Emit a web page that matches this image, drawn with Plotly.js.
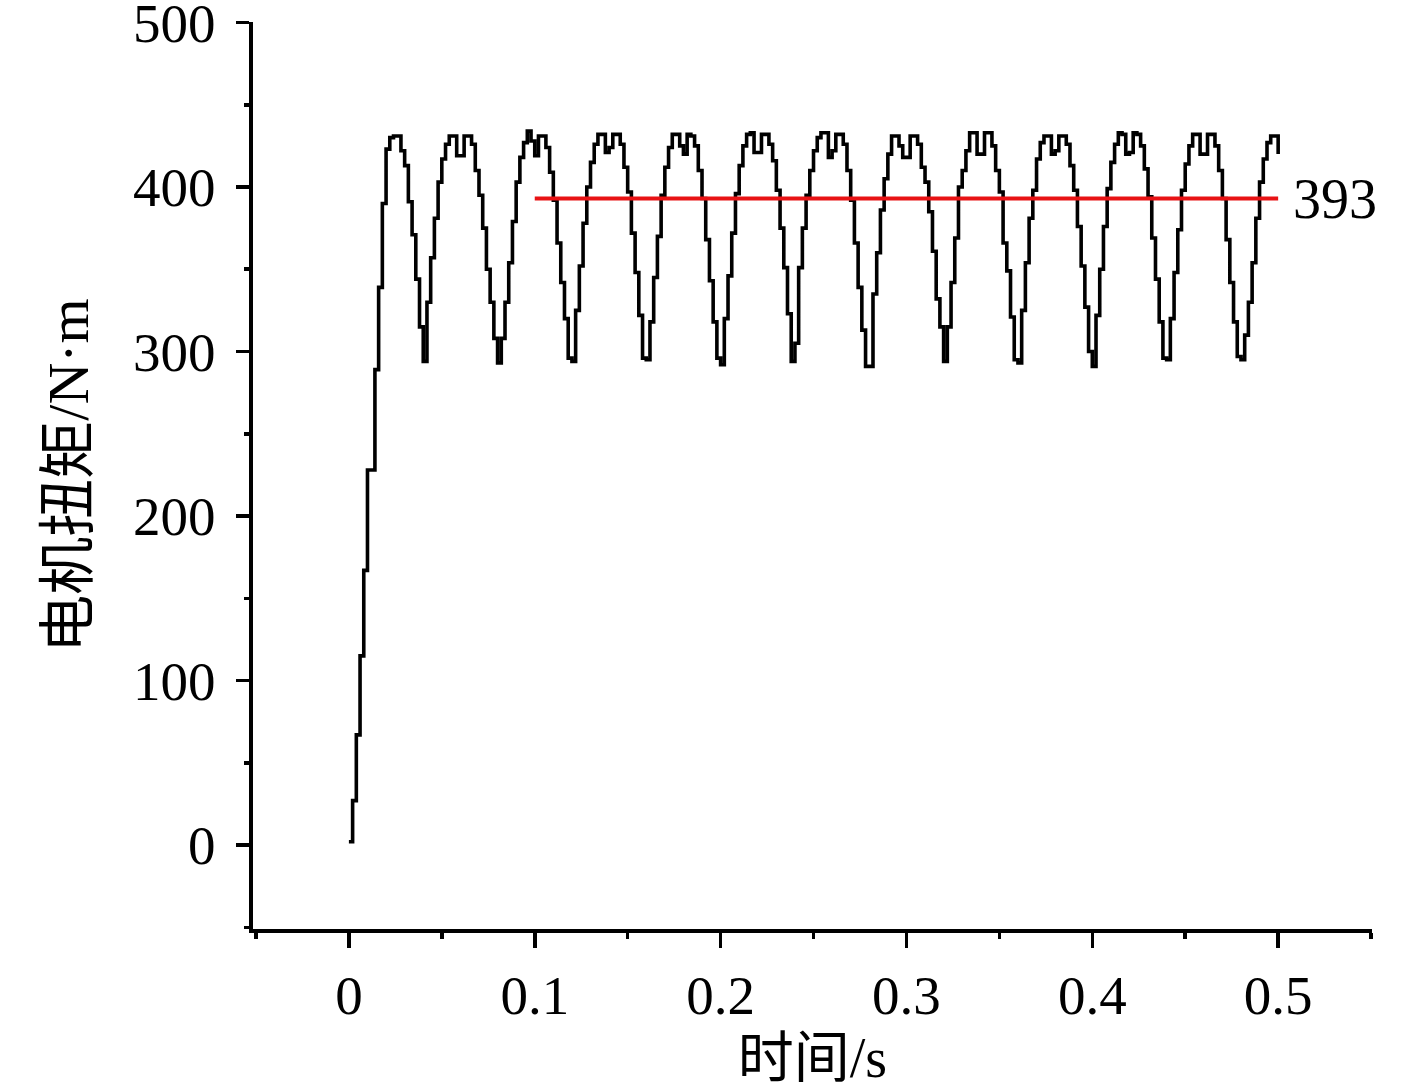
<!DOCTYPE html>
<html>
<head>
<meta charset="utf-8">
<script src="https://cdn.plot.ly/plotly-3.0.1.min.js"></script>
<style>
  html, body { margin: 0; padding: 0; background: #ffffff; }
  #chart { width: 1417px; height: 1089px; }
</style>
</head>
<body>
<div id="chart"></div>
<script>
// ---------- data ----------
// sample times, s
const timeS = [
  0,0.002,0.004,0.006,0.008,0.01,0.012,0.014,0.016,0.018,0.02,0.022,0.024,0.026,0.028,0.03,0.032,0.034,0.036,0.038,
  0.04,0.042,0.044,0.046,0.048,0.05,0.052,0.054,0.056,0.058,0.06,0.062,0.064,0.066,0.068,0.07,0.072,0.074,0.076,0.078,
  0.08,0.082,0.084,0.086,0.088,0.09,0.092,0.094,0.096,0.098,0.1,0.102,0.104,0.106,0.108,0.11,0.112,0.114,0.116,0.118,
  0.12,0.122,0.124,0.126,0.128,0.13,0.132,0.134,0.136,0.138,0.14,0.142,0.144,0.146,0.148,0.15,0.152,0.154,0.156,0.158,
  0.16,0.162,0.164,0.166,0.168,0.17,0.172,0.174,0.176,0.178,0.18,0.182,0.184,0.186,0.188,0.19,0.192,0.194,0.196,0.198,
  0.2,0.202,0.204,0.206,0.208,0.21,0.212,0.214,0.216,0.218,0.22,0.222,0.224,0.226,0.228,0.23,0.232,0.234,0.236,0.238,
  0.24,0.242,0.244,0.246,0.248,0.25,0.252,0.254,0.256,0.258,0.26,0.262,0.264,0.266,0.268,0.27,0.272,0.274,0.276,0.278,
  0.28,0.282,0.284,0.286,0.288,0.29,0.292,0.294,0.296,0.298,0.3,0.302,0.304,0.306,0.308,0.31,0.312,0.314,0.316,0.318,
  0.32,0.322,0.324,0.326,0.328,0.33,0.332,0.334,0.336,0.338,0.34,0.342,0.344,0.346,0.348,0.35,0.352,0.354,0.356,0.358,
  0.36,0.362,0.364,0.366,0.368,0.37,0.372,0.374,0.376,0.378,0.38,0.382,0.384,0.386,0.388,0.39,0.392,0.394,0.396,0.398,
  0.4,0.402,0.404,0.406,0.408,0.41,0.412,0.414,0.416,0.418,0.42,0.422,0.424,0.426,0.428,0.43,0.432,0.434,0.436,0.438,
  0.44,0.442,0.444,0.446,0.448,0.45,0.452,0.454,0.456,0.458,0.46,0.462,0.464,0.466,0.468,0.47,0.472,0.474,0.476,0.478,
  0.48,0.482,0.484,0.486,0.488,0.49,0.492,0.494,0.496,0.498,0.5
];

// motor torque, N·m — start-up, then one list per 0.04 s ripple cycle
const torqueStartup = [2, 27, 67, 115, 167, 228, 228, 289, 339, 390, 423, 430, 431, 431, 422, 413, 391, 371, 344, 315];
const torqueCycle1  = [294, 330, 357, 381, 403, 417, 426, 431, 431, 419, 419, 431, 431, 426, 410, 395, 375, 350, 330, 308];
const torqueCycle2  = [293, 308, 330, 354, 379, 403, 418, 427, 434, 428, 419, 431, 431, 424, 409, 392, 366, 342, 320, 296];
const torqueCycle3  = [294, 325, 352, 378, 400, 415, 426, 432, 432, 421, 424, 432, 432, 426, 412, 397, 372, 348, 322, 296];
const torqueCycle4  = [295, 318, 345, 370, 395, 412, 424, 432, 432, 425, 420, 432, 431, 425, 410, 393, 368, 343, 318, 296];
const torqueCycle5  = [292, 320, 346, 372, 396, 413, 425, 432, 433, 421, 421, 432, 432, 426, 416, 398, 375, 351, 323, 294];
const torqueCycle6  = [305, 351, 375, 395, 410, 422, 430, 433, 433, 418, 422, 432, 432, 426, 410, 392, 366, 339, 313, 291];
const torqueCycle7  = [291, 335, 360, 386, 405, 420, 431, 431, 425, 418, 418, 431, 431, 426, 412, 403, 385, 361, 332, 315];
const torqueCycle8  = [294, 315, 342, 369, 400, 410, 422, 433, 433, 420, 420, 433, 433, 425, 410, 397, 366, 349, 321, 295];
const torqueCycle9  = [293, 325, 354, 381, 398, 417, 427, 431, 431, 420, 422, 431, 431, 426, 413, 398, 376, 352, 327, 300];
const torqueCycle10 = [291, 322, 350, 376, 399, 415, 426, 433, 432, 420, 421, 433, 432, 425, 411, 394, 369, 344, 318, 296];
const torqueCycle11 = [295, 320, 348, 374, 398, 414, 425, 432, 432, 420, 420, 432, 432, 425, 410, 393, 368, 342, 318, 297];
const torqueCycle12 = [295, 310, 330, 354, 381, 403, 417, 427, 431, 431, 420];

// average torque marker
const meanLineTime = [0.1, 0.5];
const meanTorque = 393;

// labels
const xTitle = '时间/s';
const yTitle = '电机扭矩/N·m';

// ---------- build ----------
const torque = [].concat(torqueStartup, torqueCycle1, torqueCycle2, torqueCycle3, torqueCycle4,
  torqueCycle5, torqueCycle6, torqueCycle7, torqueCycle8, torqueCycle9, torqueCycle10,
  torqueCycle11, torqueCycle12);

const serif = "'Liberation Serif', 'Times New Roman', serif";
const cjk = "'Liberation Serif', 'Noto Sans CJK SC', serif";

const traces = [
  {
    x: timeS, y: torque, type: 'scatter', mode: 'lines',
    line: { color: '#000000', width: 3.6, shape: 'hv' },
    hoverinfo: 'skip'
  },
  {
    x: meanLineTime, y: meanLineTime.map(() => meanTorque), type: 'scatter', mode: 'lines',
    line: { color: 'rgb(232,18,20)', width: 4 },
    hoverinfo: 'skip'
  }
];

const axisCommon = {
  showline: true, linewidth: 3.6, linecolor: '#000000', mirror: false,
  ticks: 'outside', tickwidth: 3.6, tickcolor: '#000000',
  showgrid: false, zeroline: false,
  ticklabeloverflow: 'allow',
  tickfont: { family: serif, size: 55, color: '#000000' }
};

const layout = {
  width: 1417, height: 1089,
  margin: { l: 253, r: 45, t: 22, b: 160, pad: 0 },
  paper_bgcolor: '#ffffff', plot_bgcolor: '#ffffff',
  showlegend: false,
  xaxis: Object.assign({}, axisCommon, {
    range: [-0.0516, 0.5505], tick0: 0, dtick: 0.1, ticklen: 15,
    ticklabelstandoff: 0,
    minor: { dtick: 0.05, tick0: 0, ticks: 'outside', ticklen: 6, tickwidth: 3.6, tickcolor: '#000000', showgrid: false },
    title: { text: xTitle, font: { family: cjk, size: 56, color: '#000000' }, standoff: 34 }
  }),
  yaxis: Object.assign({}, axisCommon, {
    range: [-51, 500.3], tick0: 0, dtick: 100, ticklen: 13,
    ticklabelstandoff: 10,
    minor: { dtick: 50, tick0: 0, ticks: 'outside', ticklen: 5, tickwidth: 3.6, tickcolor: '#000000', showgrid: false },
    title: { text: yTitle, font: { family: cjk, size: 58, color: '#000000' }, standoff: 26 }
  }),
  annotations: [{
    x: meanLineTime[1], y: meanTorque, xref: 'x', yref: 'y',
    text: String(meanTorque), showarrow: false,
    xanchor: 'left', yanchor: 'middle', xshift: 13,
    font: { family: serif, size: 56, color: '#000000' }
  }]
};

Plotly.newPlot('chart', traces, layout, { staticPlot: true, displayModeBar: false });
</script>
</body>
</html>
